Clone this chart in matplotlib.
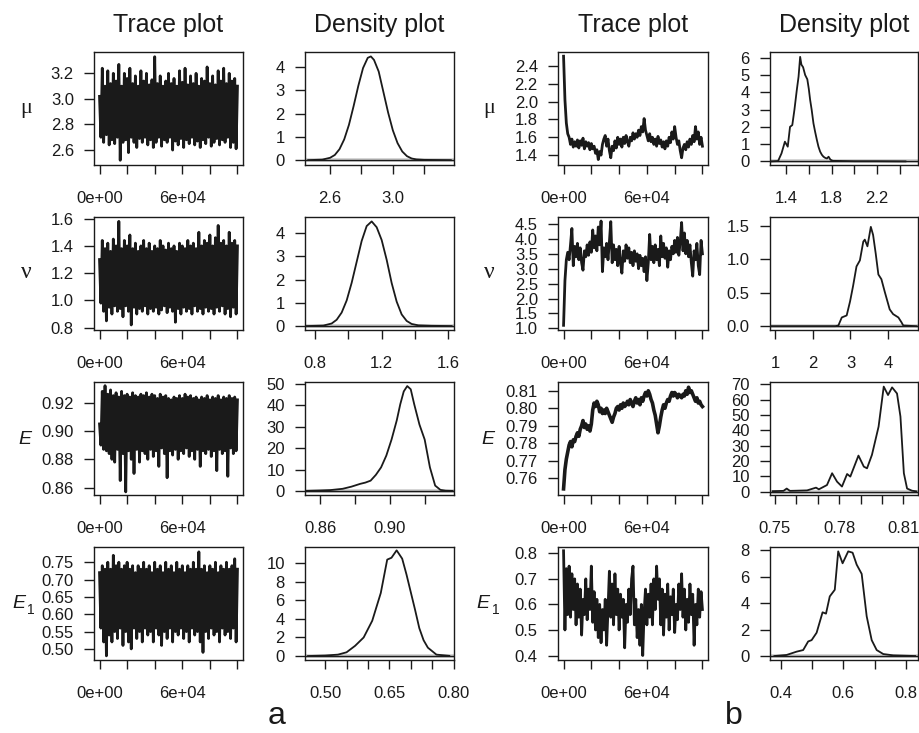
import numpy as np
import matplotlib
matplotlib.use("Agg")
import matplotlib.pyplot as plt

plt.rcParams['font.family'] = ['Liberation Sans', 'DejaVu Sans']

# ---- chain (a): well mixed, thinned every ~1000 iterations ----
n_iter = 100000

mu_a = [3.02, 2.70, 3.24, 2.66, 3.10, 2.72, 3.22, 2.64, 3.12, 2.68, 3.20, 2.65, 3.14, 2.70,
        3.27, 2.52, 3.10, 2.66, 3.20, 2.68, 3.16, 2.58, 3.24, 2.70, 3.12, 2.66, 3.18, 2.62,
        3.10, 2.69, 3.22, 2.66, 3.14, 2.70, 3.20, 2.64, 3.11, 2.68, 3.15, 2.62, 3.33, 2.66,
        3.12, 2.70, 3.18, 2.63, 3.10, 2.68, 3.14, 2.66, 3.20, 2.70, 3.12, 2.60, 3.16, 2.67,
        3.10, 2.64, 3.22, 2.69, 3.13, 2.62, 3.24, 2.68, 3.11, 2.65, 3.18, 2.70, 3.12, 2.64,
        3.20, 2.67, 3.10, 2.62, 3.16, 2.68, 3.14, 2.65, 3.25, 2.70, 3.12, 2.63, 3.18, 2.66,
        3.11, 2.69, 3.22, 2.64, 3.14, 2.68, 3.24, 2.66, 3.12, 2.70, 3.20, 2.62, 3.14, 2.66,
        3.16, 2.61, 3.10]
nu_a = [1.30, 0.98, 1.44, 0.92, 1.38, 0.85, 1.42, 0.95, 1.36, 0.90, 1.45, 0.96, 1.40, 0.92,
        1.58, 0.94, 1.38, 0.88, 1.44, 0.96, 1.40, 0.92, 1.48, 0.82, 1.38, 0.95, 1.42, 0.90,
        1.36, 0.94, 1.40, 0.92, 1.44, 0.96, 1.38, 0.90, 1.42, 0.94, 1.36, 0.92, 1.40, 0.95,
        1.38, 0.90, 1.44, 0.93, 1.40, 0.96, 1.37, 0.91, 1.42, 0.95, 1.38, 0.92, 1.40, 0.84,
        1.36, 0.94, 1.42, 0.90, 1.40, 0.95, 1.38, 0.92, 1.44, 0.94, 1.40, 0.90, 1.42, 0.96,
        1.38, 0.92, 1.50, 0.94, 1.40, 0.90, 1.44, 0.95, 1.42, 0.92, 1.48, 0.94, 1.40, 0.90,
        1.46, 0.95, 1.55, 0.92, 1.42, 0.96, 1.44, 0.90, 1.40, 0.94, 1.50, 0.88, 1.42, 0.95,
        1.44, 0.90, 1.40]
E_a = [0.905, 0.890, 0.928, 0.887, 0.932, 0.886, 0.926, 0.884, 0.929, 0.880, 0.925, 0.878,
       0.927, 0.887, 0.924, 0.865, 0.928, 0.884, 0.925, 0.857, 0.926, 0.886, 0.924, 0.880,
       0.927, 0.870, 0.925, 0.887, 0.924, 0.878, 0.926, 0.886, 0.925, 0.884, 0.927, 0.880,
       0.924, 0.887, 0.926, 0.882, 0.925, 0.886, 0.923, 0.875, 0.926, 0.888, 0.924, 0.884,
       0.925, 0.867, 0.923, 0.886, 0.922, 0.883, 0.924, 0.887, 0.923, 0.880, 0.925, 0.886,
       0.923, 0.884, 0.926, 0.888, 0.924, 0.882, 0.925, 0.886, 0.923, 0.880, 0.924, 0.887,
       0.922, 0.875, 0.924, 0.886, 0.923, 0.884, 0.925, 0.887, 0.922, 0.882, 0.924, 0.886,
       0.923, 0.872, 0.925, 0.887, 0.922, 0.884, 0.924, 0.886, 0.923, 0.868, 0.925, 0.888,
       0.923, 0.884, 0.924, 0.886, 0.922]
E1_a = [0.72, 0.56, 0.74, 0.52, 0.73, 0.48, 0.75, 0.54, 0.73, 0.52, 0.77, 0.55, 0.74, 0.53,
        0.75, 0.56, 0.73, 0.51, 0.74, 0.55, 0.75, 0.52, 0.73, 0.50, 0.74, 0.56, 0.72, 0.53,
        0.74, 0.55, 0.73, 0.52, 0.75, 0.56, 0.73, 0.54, 0.74, 0.55, 0.72, 0.52, 0.75, 0.56,
        0.73, 0.54, 0.74, 0.51, 0.72, 0.55, 0.75, 0.53, 0.73, 0.56, 0.74, 0.52, 0.72, 0.55,
        0.75, 0.54, 0.73, 0.56, 0.74, 0.53, 0.72, 0.55, 0.74, 0.52, 0.73, 0.56, 0.75, 0.54,
        0.73, 0.55, 0.78, 0.52, 0.73, 0.49, 0.74, 0.55, 0.72, 0.53, 0.74, 0.56, 0.73, 0.54,
        0.75, 0.55, 0.72, 0.52, 0.74, 0.56, 0.73, 0.54, 0.75, 0.55, 0.73, 0.53, 0.74, 0.56,
        0.76, 0.52, 0.73]

# ---- chain (b): slow mixing, burn-in visible ----
mu_b = [2.51, 2.02, 1.76, 1.64, 1.60, 1.52, 1.58, 1.49, 1.55, 1.50, 1.57, 1.48, 1.56, 1.51,
        1.59, 1.47, 1.55, 1.50, 1.54, 1.46, 1.53, 1.47, 1.50, 1.42, 1.46, 1.35, 1.44, 1.40,
        1.52, 1.58, 1.62, 1.50, 1.58, 1.45, 1.37, 1.50, 1.45, 1.56, 1.48, 1.60, 1.52, 1.58,
        1.49, 1.60, 1.53, 1.62, 1.55, 1.50, 1.60, 1.56, 1.65, 1.58, 1.64, 1.60, 1.68, 1.62,
        1.72, 1.66, 1.81, 1.68, 1.62, 1.56, 1.64, 1.55, 1.60, 1.52, 1.58, 1.50, 1.61, 1.53,
        1.57, 1.49, 1.55, 1.47, 1.56, 1.50, 1.60, 1.54, 1.66, 1.58, 1.72, 1.60, 1.52, 1.56,
        1.45, 1.37, 1.48, 1.52, 1.46, 1.55, 1.49, 1.58, 1.52, 1.62, 1.55, 1.72, 1.58, 1.66,
        1.52, 1.60, 1.50]
nu_b = [1.10, 2.60, 3.30, 3.55, 3.30, 3.80, 4.35, 3.10, 3.75, 3.40, 3.85, 3.30, 3.70, 3.20,
        2.95, 3.60, 3.40, 3.80, 3.45, 3.90, 3.55, 4.30, 3.70, 4.10, 3.60, 4.40, 3.80, 4.60,
        2.90, 3.70, 3.40, 3.85, 3.30, 3.90, 4.58, 3.20, 3.80, 3.30, 3.65, 3.10, 3.75, 3.20,
        2.85, 3.60, 3.25, 3.80, 3.35, 3.70, 3.20, 3.55, 3.10, 3.60, 3.25, 3.50, 3.00, 3.45,
        3.10, 3.35, 2.90, 3.40, 2.60, 3.20, 4.15, 3.30, 3.75, 3.20, 3.80, 3.30, 3.65, 3.10,
        4.10, 3.40, 3.85, 3.35, 3.70, 3.05, 3.60, 3.30, 3.75, 3.50, 3.95, 3.55, 4.05, 3.45,
        3.90, 4.55, 3.60, 4.20, 3.50, 3.95, 3.40, 3.80, 3.20, 2.75, 3.60, 3.30, 3.85, 3.10,
        2.80, 3.95, 3.50]
E_b = [0.754, 0.765, 0.771, 0.775, 0.779, 0.781, 0.778, 0.782, 0.781, 0.784, 0.786, 0.784,
       0.788, 0.790, 0.793, 0.789, 0.791, 0.788, 0.790, 0.787, 0.791, 0.799, 0.803, 0.801,
       0.804, 0.802, 0.798, 0.800, 0.797, 0.799, 0.797, 0.800, 0.798, 0.796, 0.794, 0.792,
       0.795, 0.797, 0.800, 0.801, 0.799, 0.802, 0.800, 0.803, 0.801, 0.802, 0.804, 0.802,
       0.805, 0.803, 0.801, 0.804, 0.806, 0.803, 0.805, 0.802, 0.806, 0.804, 0.807, 0.809,
       0.807, 0.810, 0.808, 0.805, 0.803, 0.799, 0.796, 0.791, 0.786, 0.790, 0.795, 0.799,
       0.802, 0.800, 0.803, 0.805, 0.804, 0.807, 0.809, 0.807, 0.809, 0.808, 0.806, 0.808,
       0.807, 0.806, 0.808, 0.807, 0.810, 0.808, 0.812, 0.809, 0.810, 0.808, 0.806, 0.804,
       0.806, 0.803, 0.804, 0.802, 0.801]
E1_b = [0.81, 0.50, 0.74, 0.56, 0.75, 0.55, 0.72, 0.58, 0.70, 0.52, 0.68, 0.55, 0.66, 0.48,
        0.62, 0.56, 0.70, 0.54, 0.66, 0.58, 0.75, 0.53, 0.65, 0.50, 0.62, 0.47, 0.60, 0.45,
        0.58, 0.50, 0.62, 0.44, 0.58, 0.73, 0.55, 0.68, 0.52, 0.72, 0.56, 0.66, 0.50, 0.64,
        0.55, 0.62, 0.43, 0.60, 0.53, 0.66, 0.56, 0.70, 0.75, 0.52, 0.62, 0.47, 0.58, 0.44,
        0.60, 0.40, 0.57, 0.66, 0.52, 0.64, 0.55, 0.68, 0.52, 0.70, 0.58, 0.75, 0.62, 0.70,
        0.52, 0.66, 0.48, 0.64, 0.55, 0.68, 0.50, 0.63, 0.56, 0.66, 0.49, 0.60, 0.54, 0.68,
        0.58, 0.72, 0.55, 0.66, 0.50, 0.62, 0.53, 0.68, 0.56, 0.64, 0.44, 0.60, 0.52, 0.66,
        0.55, 0.65, 0.58]

# ---- kernel density curves ----
mu_a_dx = [2.46, 2.55, 2.60, 2.63, 2.66, 2.69, 2.72, 2.75, 2.78, 2.81, 2.84, 2.86, 2.88,
           2.91, 2.94, 2.97, 3.00, 3.03, 3.06, 3.09, 3.12, 3.15, 3.20, 3.37]
mu_a_dy = [0.00, 0.02, 0.10, 0.22, 0.47, 0.89, 1.51, 2.32, 3.19, 3.95, 4.39, 4.45, 4.30,
           3.80, 2.92, 2.04, 1.28, 0.73, 0.37, 0.17, 0.07, 0.03, 0.01, 0.00]
nu_a_dx = [0.75, 0.85, 0.90, 0.93, 0.96, 0.99, 1.02, 1.05, 1.08, 1.11, 1.14, 1.17, 1.20,
           1.23, 1.26, 1.29, 1.32, 1.35, 1.38, 1.42, 1.50, 1.62]
nu_a_dy = [0.00, 0.02, 0.11, 0.27, 0.58, 1.10, 1.86, 2.76, 3.66, 4.30, 4.50, 4.25, 3.70,
           2.85, 1.85, 1.05, 0.50, 0.22, 0.09, 0.03, 0.01, 0.00]
E_a_dx = [0.852, 0.860, 0.866, 0.873, 0.878, 0.883, 0.886, 0.889, 0.892, 0.895, 0.898,
          0.901, 0.904, 0.906, 0.908, 0.910, 0.912, 0.914, 0.917, 0.920, 0.923, 0.926,
          0.929, 0.932, 0.936]
E_a_dy = [0.0, 0.2, 0.4, 1.0, 2.0, 3.3, 3.9, 4.8, 7.5, 11.0, 16.5, 24.0, 33.0, 40.5, 46.5,
          49.0, 47.5, 40.5, 31.0, 24.0, 11.0, 2.5, 0.5, 0.1, 0.0]
E1_a_dx = [0.46, 0.50, 0.53, 0.55, 0.57, 0.59, 0.61, 0.63, 0.645, 0.655, 0.667, 0.68, 0.69,
           0.70, 0.71, 0.72, 0.73, 0.74, 0.76, 0.79]
E1_a_dy = [0.0, 0.05, 0.15, 0.4, 1.1, 2.0, 3.8, 6.8, 10.4, 10.6, 11.4, 10.5, 8.8, 6.9, 5.0,
           3.0, 1.7, 0.9, 0.15, 0.02]

mu_b_dx = [1.27, 1.33, 1.36, 1.39, 1.415, 1.435, 1.455, 1.474, 1.494, 1.51, 1.524, 1.535,
           1.55, 1.568, 1.587, 1.60, 1.612, 1.625, 1.641, 1.656, 1.671, 1.685, 1.70, 1.715,
           1.729, 1.745, 1.76, 1.774, 1.79, 1.81, 2.0, 2.2, 2.45]
mu_b_dy = [0.0, 0.02, 0.46, 1.14, 0.85, 2.0, 2.1, 3.0, 4.1, 4.9, 6.05, 5.6, 5.45, 5.0, 4.75,
           4.2, 3.55, 3.0, 2.2, 1.7, 1.24, 0.85, 0.56, 0.38, 0.27, 0.2, 0.17, 0.27, 0.1,
           0.03, 0.01, 0.01, 0.0]
nu_b_dx = [0.9, 2.6, 2.68, 2.77, 2.90, 2.99, 3.07, 3.16, 3.25, 3.34, 3.38, 3.45, 3.54, 3.60,
           3.67, 3.74, 3.82, 3.91, 4.04, 4.13, 4.27, 4.35, 4.40, 4.75]
nu_b_dy = [0.0, 0.0, 0.01, 0.13, 0.16, 0.37, 0.60, 0.89, 0.98, 1.26, 1.29, 1.19, 1.48, 1.36,
           1.08, 0.77, 0.70, 0.51, 0.25, 0.18, 0.13, 0.06, 0.01, 0.0]
E_b_dx = [0.749, 0.754, 0.7555, 0.757, 0.760, 0.765, 0.7692, 0.7705, 0.7743, 0.7767, 0.779,
          0.7813, 0.7837, 0.7852, 0.789, 0.7915, 0.793, 0.7953, 0.7984, 0.8008, 0.8028,
          0.8047, 0.807, 0.8086, 0.8102, 0.8117, 0.814, 0.816]
E_b_dy = [0.3, 0.5, 2.0, 0.5, 0.6, 0.8, 2.6, 1.5, 4.3, 12.0, 6.5, 3.3, 11.5, 9.8, 23.5, 16.3,
          15.2, 24.0, 42.4, 68.5, 63.0, 68.0, 64.0, 49.0, 12.0, 2.0, 0.6, 0.2]
E1_b_dx = [0.38, 0.419, 0.451, 0.472, 0.488, 0.499, 0.515, 0.534, 0.545, 0.557, 0.573, 0.584,
           0.598, 0.616, 0.63, 0.643, 0.659, 0.675, 0.691, 0.707, 0.728, 0.76, 0.83]
E1_b_dy = [0.0, 0.08, 0.33, 0.45, 1.1, 1.2, 1.76, 3.3, 3.2, 4.5, 5.0, 7.9, 7.0, 7.9, 7.8, 6.9,
           6.2, 3.0, 1.2, 0.45, 0.15, 0.05, 0.0]

# ticks / labels (R drops labels that would overlap)
trace_xticks = [0, 20000, 40000, 60000, 80000, 100000]
trace_xlabels = ['0e+00', '', '', '6e+04', '', '']

W, H = 920, 733
fig = plt.figure(figsize=(W / 100, H / 100), dpi=100)

col_x = {'a_tr': (94, 243), 'a_de': (305, 454), 'b_tr': (558, 708), 'b_de': (770, 918)}
row_top = [52, 217, 382, 547]
box_h = 113
ink = '#1a1a1a'


def make_ax(col, row):
    x0, x1 = col_x[col]
    top = row_top[row]
    ax = fig.add_axes([x0 / W, 1 - (top + box_h) / H, (x1 - x0) / W, box_h / H])
    for s in ax.spines.values():
        s.set_linewidth(1.0)
        s.set_color(ink)
    ax.tick_params(axis='y', direction='out', length=7.5, width=1.0, pad=7, labelsize=12,
                   color=ink, labelcolor=ink)
    ax.tick_params(axis='x', direction='out', length=6.5, width=1.0, pad=12, labelsize=12,
                   color=ink, labelcolor=ink)
    return ax


def trace_panel(col, row, vals, ylim, yticks, ylabels, lw=1.5):
    ax = make_ax(col, row)
    it = np.linspace(0, n_iter, len(vals))
    ax.plot(it, vals, color=ink, lw=lw, solid_joinstyle='round')
    ax.set_xlim(-4000, 104000)
    ax.set_ylim(*ylim)
    ax.set_xticks(trace_xticks)
    ax.set_xticklabels(trace_xlabels)
    ax.set_yticks(yticks)
    ax.set_yticklabels(ylabels)
    return ax


def dens_panel(col, row, dx, dy, xlim, ylim, xticks, xlabels, yticks, ylabels):
    ax = make_ax(col, row)
    ax.axhline(0, color='0.8', lw=2.6)
    ax.axhline(0, color=ink, lw=1.0)
    ax.plot(dx, dy, color=ink, lw=1.3)
    ax.set_xlim(*xlim)
    ax.set_ylim(*ylim)
    ax.set_xticks(xticks)
    ax.set_xticklabels(xlabels)
    ax.set_yticks(yticks)
    ax.set_yticklabels(ylabels)
    return ax


# ---- column a (dense chains, thicker line so the band reads solid) ----
trace_panel('a_tr', 0, mu_a, (2.483, 3.367), [2.6, 2.8, 3.0, 3.2], ['2.6', '2.8', '3.0', '3.2'], lw=2.0)
trace_panel('a_tr', 1, nu_a, (0.783, 1.612), [0.8, 1.0, 1.2, 1.4, 1.6],
            ['0.8', '1.0', '1.2', '1.4', '1.6'], lw=2.0)
trace_panel('a_tr', 2, E_a, (0.8548, 0.9346), [0.86, 0.88, 0.90, 0.92],
            ['0.86', '0.88', '0.90', '0.92'], lw=2.0)
trace_panel('a_tr', 3, E1_a, (0.468, 0.794), [0.50, 0.55, 0.60, 0.65, 0.70, 0.75],
            ['0.50', '0.55', '0.60', '0.65', '0.70', '0.75'], lw=2.0)

dens_panel('a_de', 0, mu_a_dx, mu_a_dy, (2.44, 3.39), (-0.21, 4.64),
           [2.6, 2.8, 3.0, 3.2], ['2.6', '', '3.0', ''], [0, 1, 2, 3, 4], ['0', '1', '2', '3', '4'])
dens_panel('a_de', 1, nu_a_dx, nu_a_dy, (0.74, 1.634), (-0.17, 4.69),
           [0.8, 1.0, 1.2, 1.4, 1.6], ['0.8', '', '1.2', '', '1.6'],
           [0, 1, 2, 3, 4], ['0', '1', '2', '3', '4'])
dens_panel('a_de', 2, E_a_dx, E_a_dy, (0.8514, 0.9368), (-1.9, 50.9),
           [0.86, 0.88, 0.90, 0.92], ['0.86', '', '0.90', ''],
           [0, 10, 20, 30, 40, 50], ['0', '10', '20', '30', '40', '50'])
dens_panel('a_de', 3, E1_a_dx, E1_a_dy, (0.453, 0.801), (-0.43, 11.76),
           [0.50, 0.55, 0.60, 0.65, 0.70, 0.75, 0.80], ['0.50', '', '', '0.65', '', '', '0.80'],
           [0, 2, 4, 6, 8, 10], ['0', '2', '4', '6', '8', '10'])

# ---- column b ----
trace_panel('b_tr', 0, mu_b, (1.289, 2.557), [1.4, 1.6, 1.8, 2.0, 2.2, 2.4],
            ['1.4', '1.6', '1.8', '2.0', '2.2', '2.4'], lw=2.0)
trace_panel('b_tr', 1, nu_b, (0.943, 4.735), [1.0, 1.5, 2.0, 2.5, 3.0, 3.5, 4.0, 4.5],
            ['1.0', '1.5', '2.0', '2.5', '3.0', '3.5', '4.0', '4.5'], lw=2.0)
trace_panel('b_tr', 2, E_b, (0.7505, 0.815), [0.76, 0.77, 0.78, 0.79, 0.80, 0.81],
            ['0.76', '0.77', '0.78', '0.79', '0.80', '0.81'], lw=2.6)
trace_panel('b_tr', 3, E1_b, (0.3824, 0.8248), [0.4, 0.5, 0.6, 0.7, 0.8],
            ['0.4', '0.5', '0.6', '0.7', '0.8'], lw=2.0)

dens_panel('b_de', 0, mu_b_dx, mu_b_dy, (1.259, 2.56), (-0.21, 6.33),
           [1.4, 1.6, 1.8, 2.0, 2.2, 2.4], ['1.4', '', '1.8', '', '2.2', ''],
           [0, 1, 2, 3, 4, 5, 6], ['0', '1', '2', '3', '4', '5', '6'])
dens_panel('b_de', 1, nu_b_dx, nu_b_dy, (0.868, 4.79), (-0.057, 1.627),
           [1, 2, 3, 4], ['1', '2', '3', '4'], [0, 0.5, 1.0, 1.5], ['0.0', '0.5', '1.0', '1.5'])
dens_panel('b_de', 2, E_b_dx, E_b_dy, (0.7477, 0.8168), (-2.2, 71.5),
           [0.75, 0.76, 0.77, 0.78, 0.79, 0.80, 0.81], ['0.75', '', '', '0.78', '', '', '0.81'],
           [0, 10, 20, 30, 40, 50, 60, 70], ['0', '10', '20', '30', '40', '50', '60', '70'])
dens_panel('b_de', 3, E1_b_dx, E1_b_dy, (0.366, 0.839), (-0.3, 8.23),
           [0.4, 0.5, 0.6, 0.7, 0.8], ['0.4', '', '0.6', '', '0.8'],
           [0, 2, 4, 6, 8], ['0', '2', '4', '6', '8'])

# ---- titles, parameter names, panel letters ----
def ft(x, y, s, **kw):
    fig.text(x / W, 1 - y / H, s, **kw)

for xc, s in [(168.5, 'Trace plot'), (379.5, 'Density plot'), (633, 'Trace plot'), (844, 'Density plot')]:
    ft(xc, 32, s, ha='center', va='baseline', fontsize=18, color=ink)

for xl in [26, 489]:
    ft(xl, 108, 'μ', ha='center', va='center', fontsize=16, family='Liberation Serif', color=ink)
    ft(xl, 273, 'ν', ha='center', va='center', fontsize=17, family='Liberation Serif', color=ink)
ft(25, 440, 'E', ha='center', va='center', fontsize=14, style='italic', color=ink)
ft(488, 440, 'E', ha='center', va='center', fontsize=14, style='italic', color=ink)
ft(18.5, 604, 'E', ha='center', va='center', fontsize=14, style='italic', color=ink)
ft(30.5, 610, '1', ha='center', va='center', fontsize=10, color=ink)
ft(483, 604, 'E', ha='center', va='center', fontsize=14, style='italic', color=ink)
ft(495.5, 610, '1', ha='center', va='center', fontsize=10, color=ink)

ft(277, 716, 'a', ha='center', va='center', fontsize=23, color=ink)
ft(734, 716, 'b', ha='center', va='center', fontsize=23, color=ink)

fig.savefig('out.png', dpi=100)
